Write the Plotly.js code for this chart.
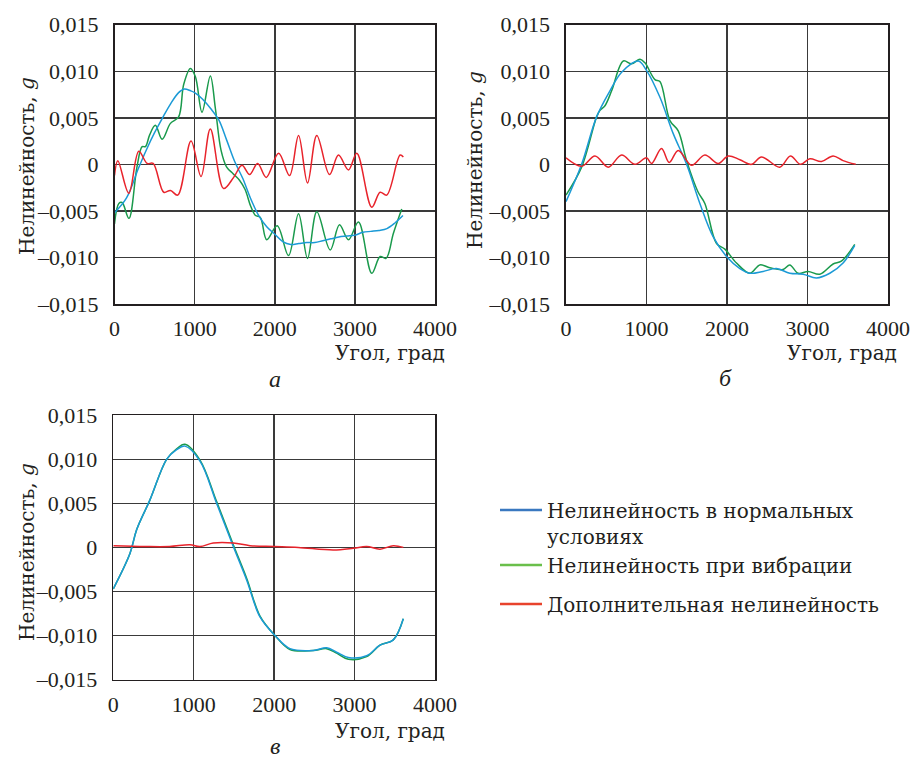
<!DOCTYPE html>
<html>
<head>
<meta charset="utf-8">
<script src="https://cdn.plot.ly/plotly-3.0.1.min.js"></script>
<style>html,body{margin:0;padding:0;background:#fff;}#chart{width:912px;height:761px;}</style>
</head>
<body>
<div id="chart"></div>
<script>
// ---- tick labels ----
var xTickVals = [0, 1000, 2000, 3000, 4000];
var xTickText = ['0', '1000', '2000', '3000', '4000'];
var yTickVals = [-0.015, -0.010, -0.005, 0, 0.005, 0.010, 0.015];
var yTickText = ['\u20130,015', '\u20130,010', '\u20130,005', '0', '0,005', '0,010', '0,015'];

// ---- series names ----
var seriesNames = ['Нелинейность в нормальных<br>условиях', 'Нелинейность при вибрации', 'Дополнительная нелинейность'];

// ---- panel а ----
var aBlueX = [0, 150, 300, 400, 500, 600, 700, 800, 870, 950, 1000, 1100, 1200, 1300, 1400, 1500, 1600, 1700, 1800, 1900, 2000, 2100, 2200, 2300, 2400, 2500, 2600, 2700, 2800, 2900, 3000, 3100, 3200, 3300, 3400, 3500, 3600];
var aBlueY = [-0.0052, -0.0036, -0.0004, 0.0016, 0.0034, 0.0050, 0.0065, 0.0077, 0.0081, 0.0079, 0.0077, 0.0070, 0.0060, 0.0048, 0.0026, 0.0003, -0.0015, -0.0037, -0.0055, -0.0067, -0.0075, -0.0083, -0.0086, -0.0085, -0.0084, -0.0084, -0.0082, -0.0080, -0.0078, -0.0077, -0.0076, -0.0073, -0.0072, -0.0071, -0.0069, -0.0063, -0.0055];
var aGreenX = [0, 54, 95, 180, 280, 345, 386, 440, 510, 594, 698, 800, 864, 947, 1010, 1092, 1196, 1259, 1330, 1400, 1480, 1560, 1630, 1700, 1760, 1820, 1900, 2030, 2172, 2297, 2409, 2525, 2692, 2808, 2920, 3045, 3211, 3315, 3389, 3481, 3585];
var aGreenY = [-0.0064, -0.0042, -0.0041, -0.0058, -0.0003, 0.0019, 0.0019, 0.0032, 0.0042, 0.0027, 0.0044, 0.0051, 0.0086, 0.0103, 0.0094, 0.0056, 0.0095, 0.0060, 0.0015, -0.0003, -0.0010, -0.0017, -0.0027, -0.0045, -0.0055, -0.0057, -0.0081, -0.0066, -0.0098, -0.0053, -0.0101, -0.0051, -0.0092, -0.0065, -0.0081, -0.0062, -0.0117, -0.0099, -0.0101, -0.0074, -0.0048];
var aRedX = [0, 41, 178, 303, 407, 482, 615, 698, 789, 955, 1080, 1196, 1362, 1487, 1591, 1686, 1786, 1894, 2048, 2185, 2297, 2409, 2525, 2683, 2795, 2920, 3024, 3211, 3315, 3398, 3564, 3605];
var aRedY = [-0.0012, 0.0004, -0.0031, 0.0014, 0.0001, 0.0001, -0.0030, -0.0028, -0.0033, 0.0025, -0.0013, 0.0038, -0.0026, -0.0014, -0.0001, -0.0011, 0.0001, -0.0014, 0.0012, -0.0012, 0.0031, -0.0020, 0.0031, -0.0011, 0.0010, -0.0006, 0.0012, -0.0046, -0.0030, -0.0033, 0.0010, 0.0008];

// ---- panel б ----
var bBlueX = [0, 194, 380, 546, 691, 898, 1000, 1167, 1332, 1498, 1663, 1829, 1994, 2160, 2284, 2449, 2615, 2780, 2946, 3111, 3277, 3442, 3587];
var bBlueY = [-0.0040, 0.0000, 0.0051, 0.0079, 0.0099, 0.0111, 0.0101, 0.0072, 0.0033, 0.0000, -0.0042, -0.0078, -0.0099, -0.0112, -0.0117, -0.0115, -0.0112, -0.0117, -0.0118, -0.0122, -0.0117, -0.0106, -0.0087];
var bGreenX = [0, 194, 380, 422, 484, 567, 712, 815, 919, 981, 1105, 1167, 1291, 1394, 1498, 1642, 1725, 1870, 1973, 2118, 2284, 2408, 2532, 2697, 2780, 2884, 3008, 3153, 3318, 3421, 3587];
var bGreenY = [-0.0033, -0.0003, 0.0051, 0.0058, 0.0063, 0.0079, 0.0111, 0.0108, 0.0113, 0.0109, 0.0091, 0.0089, 0.0047, 0.0036, 0.0004, -0.0030, -0.0042, -0.0085, -0.0091, -0.0106, -0.0117, -0.0108, -0.0111, -0.0113, -0.0108, -0.0117, -0.0115, -0.0118, -0.0107, -0.0104, -0.0086];
var bRedX = [0, 194, 360, 525, 691, 856, 1000, 1063, 1187, 1282, 1394, 1560, 1725, 1891, 2015, 2160, 2305, 2429, 2656, 2788, 2913, 3029, 3173, 3318, 3442, 3599];
var bRedY = [0.0007, -0.0002, 0.0009, -0.0003, 0.0010, 0.0000, 0.0007, 0.0001, 0.0017, 0.0002, 0.0015, -0.0001, 0.0010, 0.0001, 0.0009, 0.0005, 0.0000, 0.0008, -0.0003, 0.0009, 0.0000, 0.0006, 0.0003, 0.0009, 0.0004, 0.0000];

// ---- panel в ----
var cX = [0, 207, 290, 456, 663, 788, 891, 1078, 1285, 1492, 1658, 1824, 2010, 2197, 2487, 2653, 2777, 2922, 3150, 3316, 3482, 3606];
var cBlueY = [-0.0047, -0.0007, 0.0020, 0.0054, 0.0100, 0.0111, 0.0115, 0.0098, 0.0050, 0.0001, -0.0037, -0.0079, -0.0100, -0.0115, -0.0117, -0.0114, -0.0119, -0.0125, -0.0123, -0.0111, -0.0105, -0.0081];
var cGreenY = [-0.0047, -0.0007, 0.0020, 0.0054, 0.0100, 0.0112, 0.0117, 0.0099, 0.0052, 0.0003, -0.0035, -0.0078, -0.0100, -0.0116, -0.0117, -0.0115, -0.0120, -0.0127, -0.0124, -0.0111, -0.0105, -0.0081];
var cRedX = [0, 400, 700, 953, 1078, 1243, 1492, 1700, 2000, 2300, 2736, 2985, 3150, 3316, 3482, 3606];
var cRedY = [0.0002, 0.0001, 0.0001, 0.0003, 0.0001, 0.0005, 0.0005, 0.0002, 0.0001, 0.0000, -0.0003, -0.0001, 0.0001, -0.0002, 0.0002, 0.0000];

// ---- styling ----
var plotColors = {blue: '#1b9ad6', green: '#1a9a4c', red: '#e8232b'};
var legendColors = ['#3a78c0', '#6abf4b', '#e8432c'];
var FONT = '"Liberation Serif", "Times New Roman", serif';
var FONT_T = '"DejaVu Serif", serif';
var TXT = '#231f20';

function line(x, y, color, xa, ya) {
  return {x: x, y: y, type: 'scatter', mode: 'lines', xaxis: xa, yaxis: ya,
    line: {color: color, width: 1.5, shape: 'spline', smoothing: 1}, showlegend: false, hoverinfo: 'skip'};
}

var data = [
  line(aGreenX, aGreenY, plotColors.green, 'x', 'y'),
  line(aBlueX, aBlueY, plotColors.blue, 'x', 'y'),
  line(aRedX, aRedY, plotColors.red, 'x', 'y'),
  line(bGreenX, bGreenY, plotColors.green, 'x2', 'y2'),
  line(bBlueX, bBlueY, plotColors.blue, 'x2', 'y2'),
  line(bRedX, bRedY, plotColors.red, 'x2', 'y2'),
  line(cX, cGreenY, plotColors.green, 'x3', 'y3'),
  line(cX, cBlueY, plotColors.blue, 'x3', 'y3'),
  line(cRedX, cRedY, plotColors.red, 'x3', 'y3')
];
var legendIds = ['legend', 'legend2', 'legend3'];
for (var i = 0; i < 3; i++) {
  data.push({x: [null], y: [null], type: 'scatter', mode: 'lines', xaxis: 'x3', yaxis: 'y3',
    name: seriesNames[i], legend: legendIds[i], showlegend: true,
    line: {color: legendColors[i], width: 2.5}});
}

function xAxis(domain, anchor) {
  return {domain: domain, anchor: anchor, range: [0, 4000], tickvals: xTickVals, ticktext: xTickText,
    showgrid: true, gridcolor: '#3a3a3a', gridwidth: 1.5, showline: true, mirror: true,
    linecolor: TXT, linewidth: 1.6, zeroline: false, ticks: '', ticklabelstandoff: 4,
    tickfont: {family: FONT, size: 22, color: TXT}, fixedrange: true};
}
function yAxis(domain, anchor) {
  return {domain: domain, anchor: anchor, range: [-0.015, 0.015], tickvals: yTickVals, ticktext: yTickText,
    showgrid: true, gridcolor: '#3a3a3a', gridwidth: 1.5, showline: true, mirror: true,
    linecolor: TXT, linewidth: 1.6, zeroline: false, ticks: '', ticklabelstandoff: 10,
    tickfont: {family: FONT, size: 22, color: TXT}, fixedrange: true};
}

function ann(text, x, y, opts) {
  var o = {text: text, x: x / 912, y: 1 - y / 761, xref: 'paper', yref: 'paper', showarrow: false,
    font: {family: FONT_T, size: 20, color: TXT}, xanchor: 'center', yanchor: 'middle'};
  for (var k in (opts || {})) o[k] = opts[k];
  return o;
}

var legBase = {font: {family: FONT_T, size: 20, color: TXT}, bgcolor: 'rgba(0,0,0,0)', borderwidth: 0,
  xanchor: 'left', yanchor: 'middle', itemwidth: 42, valign: 'top', itemclick: false, itemdoubleclick: false};
function leg(x, y) { var o = {}; for (var k in legBase) o[k] = legBase[k]; o.x = x / 912; o.y = 1 - y / 761; return o; }

var layout = {
  width: 912, height: 761, margin: {l: 0, r: 0, t: 0, b: 0},
  paper_bgcolor: '#ffffff', plot_bgcolor: '#ffffff',
  showlegend: true,
  xaxis: xAxis([114.5 / 912, 435 / 912], 'y'),
  yaxis: yAxis([1 - 304 / 761, 1 - 24.7 / 761], 'x'),
  xaxis2: xAxis([566 / 912, 888 / 912], 'y2'),
  yaxis2: yAxis([1 - 304 / 761, 1 - 24.7 / 761], 'x2'),
  xaxis3: xAxis([113.3 / 912, 435 / 912], 'y3'),
  yaxis3: yAxis([1 - 679.5 / 761, 1 - 415.3 / 761], 'x3'),
  legend: leg(495, 523),
  legend2: leg(495, 565),
  legend3: leg(495, 604),
  annotations: [
    ann('Угол, град', 447, 353, {xanchor: 'right'}),
    ann('Угол, град', 899, 353, {xanchor: 'right'}),
    ann('Угол, град', 447, 731, {xanchor: 'right'}),
    ann('Нелинейность, <i>g</i>', 27, 166, {textangle: -90}),
    ann('Нелинейность, <i>g</i>', 475, 160, {textangle: -90}),
    ann('Нелинейность, <i>g</i>', 27, 552, {textangle: -90}),
    ann('<i>а</i>', 275, 379, {font: {family: FONT, size: 24, color: TXT}}),
    ann('<i>б</i>', 725, 378, {font: {family: FONT, size: 24, color: TXT}}),
    ann('<i>в</i>', 275, 761, {yanchor: 'bottom', font: {family: FONT, size: 24, color: TXT}})
  ]
};

Plotly.newPlot('chart', data, layout, {staticPlot: true, displayModeBar: false});
</script>
</body>
</html>
